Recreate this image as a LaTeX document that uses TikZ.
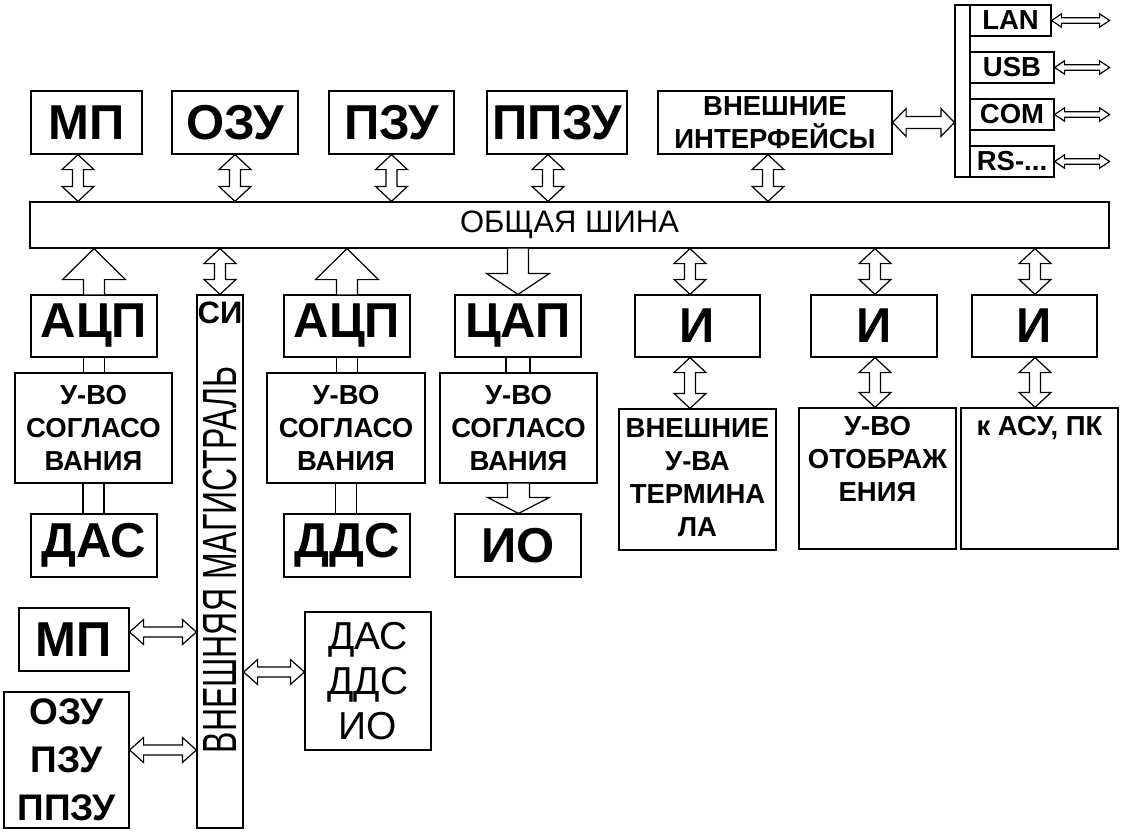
\documentclass[tikz,border=0pt]{standalone}
\usepackage{fontspec}
\usepackage{graphicx}
\setmainfont{Liberation Sans}
\usetikzlibrary{calc}
\begin{document}
\begin{tikzpicture}[x=1pt,y=-1pt,line width=1.2pt,
    box/.style 2 args={draw,inner sep=0pt,minimum width=#1,minimum height=#2},
    big/.style={font=\fontsize{49}{50}\selectfont\bfseries},
    mid/.style={font=\fontsize{27.5}{33}\selectfont\bfseries,align=center},
    dblv/.style n args={3}{fill=white,to path={let \p1=(\tikztostart),\p2=(\tikztotarget),\n1={ifthenelse(\y2>\y1,#3,-#3)} in
        (\x1,\y1) -- ({\x1+#2},{\y1+\n1}) -- ({\x1+#1},{\y1+\n1}) -- ({\x1+#1},{\y2-\n1}) -- ({\x1+#2},{\y2-\n1}) -- (\x1,\y2)
        -- ({\x1-#2},{\y2-\n1}) -- ({\x1-#1},{\y2-\n1}) -- ({\x1-#1},{\y1+\n1}) -- ({\x1-#2},{\y1+\n1}) -- cycle}},
    dblh/.style n args={3}{fill=white,to path={let \p1=(\tikztostart),\p2=(\tikztotarget),\n1={ifthenelse(\x2>\x1,#3,-#3)} in
        (\x1,\y1) -- ({\x1+\n1},{\y1+#2}) -- ({\x1+\n1},{\y1+#1}) -- ({\x2-\n1},{\y1+#1}) -- ({\x2-\n1},{\y1+#2}) -- (\x2,\y1)
        -- ({\x2-\n1},{\y1-#2}) -- ({\x2-\n1},{\y1-#1}) -- ({\x1+\n1},{\y1-#1}) -- ({\x1+\n1},{\y1-#2}) -- cycle}},
    blk/.style n args={3}{fill=white,to path={let \p1=(\tikztostart),\p2=(\tikztotarget),\n1={ifthenelse(\y2>\y1,#3,-#3)} in
        ({\x1-#1},\y1) -- ({\x1-#1},{\y2-\n1}) -- ({\x1-#2},{\y2-\n1}) -- (\x1,\y2) -- ({\x1+#2},{\y2-\n1}) -- ({\x1+#1},{\y2-\n1}) -- ({\x1+#1},\y1)}},
    pipe/.style={to path={let \p1=(\tikztostart),\p2=(\tikztotarget) in ({\x1-#1},\y1) -- ({\x1-#1},\y2) ({\x1+#1},\y1) -- ({\x1+#1},\y2)}},
    vdbl/.style={dblv={5.5}{16}{15}},
    hdbl/.style={dblh={6}{14}{13.5}},
    sdbl/.style={dblh={2.7}{6.7}{10}},
    ldbl/.style={dblh={5}{12.5}{14}}]
\useasboundingbox (0,0) rectangle (1121,836);

\node[box={111}{63},big] (mp) at (86.5,122.5) {МП};
\node[box={126}{63},big] (ozu) at (235,122.5) {ОЗУ};
\node[box={125}{63},big] (pzu) at (391.5,122.5) {ПЗУ};
\node[box={140}{63},big] (ppzu) at (557,122.5) {ППЗУ};
\node[box={234}{63},mid] (extif) at (775,122.5) {ВНЕШНИЕ\\ИНТЕРФЕЙСЫ};

\node[box={15}{172}] (port) at (962.5,91) {};
\node[box={81}{31},mid] (lan) at (1010.5,20.5) {LAN};
\node[box={84}{31},mid] (usb) at (1012,67.5) {USB};
\node[box={84}{31},mid] (com) at (1012,114.5) {COM};
\node[box={84}{31},mid] (rs) at (1012,161.5) {RS-...};

\node[box={1079}{46},font=\fontsize{31}{31}\selectfont] (bus) at (569.5,225) {ОБЩАЯ ШИНА};

\node[box={126}{62},big] (adc1) at (94,326) {АЦП};
\node[box={126}{62},big] (adc2) at (347,326) {АЦП};
\node[box={126}{62},big] (dac) at (518,326) {ЦАП};
\node[box={125}{62},big] (i1) at (697.5,326) {И};
\node[box={126}{62},big] (i2) at (874,326) {И};
\node[box={125}{62},big] (i3) at (1034.5,326) {И};

\node[box={46}{533}] (si) at (220,561.5) {};
\node[font=\fontsize{31}{31}\selectfont\bfseries,anchor=north,inner sep=0pt] (sitxt) at ([yshift=-7]si.north) {СИ};
\node[rotate=90] (magtxt) at (220,560) {\scalebox{1}[1.5]{\fontsize{32}{32}\selectfont ВНЕШНЯЯ МАГИСТРАЛЬ}};

\node[box={157}{110},mid] (sg1) at (93.5,428) {У-ВО\\СОГЛАСО\\ВАНИЯ};
\node[box={158}{110},mid] (sg2) at (346,428) {У-ВО\\СОГЛАСО\\ВАНИЯ};
\node[box={157}{110},mid] (sg3) at (518.5,428) {У-ВО\\СОГЛАСО\\ВАНИЯ};

\node[box={126}{63},big] (das) at (94,545.5) {ДАС};
\node[box={126}{63},big] (dds) at (347,545.5) {ДДС};
\node[box={126}{63},big] (io) at (518,545.5) {ИО};

\node[box={157}{141}] (term) at (697.5,479.5) {};
\node[box={157}{141}] (disp) at (877.5,478.5) {};
\node[box={157}{141}] (asu) at (1039.5,478.5) {};
\node[mid,anchor=north,inner sep=0pt] (termtxt) at ([yshift=-10]term.north) {ВНЕШНИЕ\\У-ВА\\ТЕРМИНА\\ЛА};
\node[mid,anchor=north,inner sep=0pt] (disptxt) at ([yshift=-8]disp.north) {У-ВО\\ОТОБРАЖ\\ЕНИЯ};
\node[mid,anchor=north,inner sep=0pt] (asutxt) at ([yshift=-8]asu.north) {к АСУ, ПК};

\node[box={110}{63},big] (mp2) at (74,639.5) {МП};
\node[box={125}{136},font=\fontsize{37}{48}\selectfont\bfseries,align=center] (mem) at (66.5,760) {ОЗУ\\ПЗУ\\ППЗУ};
\node[box={126}{138},font=\fontsize{39}{45}\selectfont,align=center] (dev) at (368,681) {ДАС\\ДДС\\ИО};

\foreach \a/\s in {mp/-8.5,ozu/0,pzu/0,ppzu/-9,extif/-7}
    \draw[vdbl] ([xshift=\s]\a.south) to (bus.north);
\draw[hdbl] (extif.east) to (port.west);
\foreach \q in {lan,usb,com,rs}
    \draw[sdbl] (\q.east) to (\q.east -| bus.east);

\draw[blk={10.5}{31.5}{31}] (adc1.north) to (bus.south);
\draw[blk={10.5}{31.5}{31}] (adc2.north) to (bus.south);
\draw[blk={10.5}{31.5}{21}] (dac.north |- bus.south) to (dac.north);
\draw[vdbl] (si.north) to (bus.south);
\foreach \a/\s/\b in {i1/-7.5/term,i2/1/disp,i3/0.5/asu}{
    \draw[vdbl] ([xshift=\s]\a.north) to (bus.south);
    \draw[vdbl] ([xshift=\s]\a.south) to (\b.north);
}

\draw[pipe=10.5] (adc1.south) to (sg1.north);
\draw[pipe=10.5] (sg1.south) to (das.north);
\draw[pipe=10.5] (adc2.south) to (sg2.north);
\draw[pipe=10.5] (sg2.south) to (dds.north);
\draw[pipe=12] (dac.south) to (sg3.north);
\draw[blk={11}{31}{16}] (sg3.south) to (io.north);

\draw[ldbl] ([yshift=7.5]mp2.east) to (si.west);
\draw[ldbl] ([yshift=10]mem.east) to (si.west);
\draw[ldbl] ([yshift=9]dev.west) to (si.east);
\end{tikzpicture}
\end{document}
